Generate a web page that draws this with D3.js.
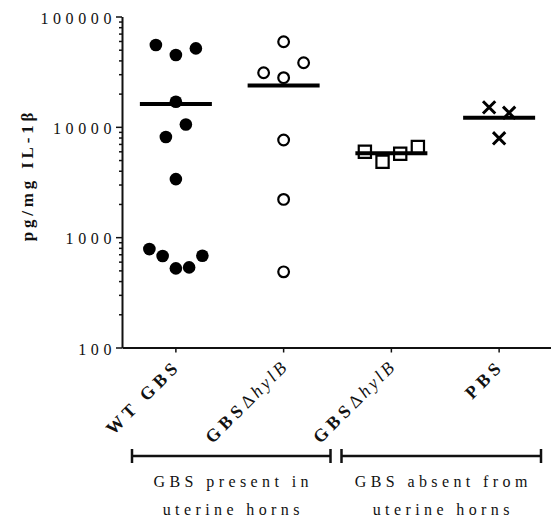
<!DOCTYPE html>
<html>
<head>
<meta charset="utf-8">
<script src="https://cdn.jsdelivr.net/npm/d3@7"></script>
<style>
  body { margin: 0; background: #fff; }
  text { font-family: "Liberation Serif", "DejaVu Serif", "Times New Roman", serif; }
</style>
</head>
<body>
<svg width="551" height="522"></svg>
<script>
// values (pg/mg IL-1β)
let wtGbs = [521, 532, 675, 678, 780, 3360, 8090, 10500, 16900, 44800, 51400, 55200];
let hylbPresent = [485, 2200, 7590, 27900, 38100, 30900, 59100];
let hylbAbsent = [4830, 5700, 5950, 6560];
let pbs = [15000, 13400, 7870];

let groupValues = [wtGbs, hylbPresent, hylbAbsent, pbs];
let groupSymbols = ["dot", "circle", "square", "times"];
let groupLabels = [
  [{ t: "WT GBS", b: true }],
  [{ t: "GBS", b: true }, { t: "Δ" }, { t: "hylB", i: true }],
  [{ t: "GBS", b: true }, { t: "Δ" }, { t: "hylB", i: true }],
  [{ t: "PBS", b: true }]
];
let yTicks = [100, 1000, 10000, 100000];
let brackets = [
  { from: 0, to: 1, lines: ["GBS present in", "uterine horns"] },
  { from: 2, to: 3, lines: ["GBS absent from", "uterine horns"] }
];

let svg = d3.select("svg");

let x = d3.scaleBand().domain(d3.range(groupValues.length)).range([122, 553]);
let y = d3.scaleLog().domain([100, 100000]).range([347.5, 16.5]);

// minor ticks 2..9 of each decade
let allTicks = [];
yTicks.forEach((t, i) => {
  if (i < yTicks.length - 1) d3.range(1, 10).forEach((k) => allTicks.push(t * k));
  else allTicks.push(t);
});

let yAxis = svg
  .append("g")
  .attr("transform", "translate(122,0)")
  .call(
    d3.axisLeft(y).tickValues(allTicks).tickSizeOuter(0).tickFormat((d) => (yTicks.includes(d) ? d : ""))
  );
yAxis.attr("font-family", null);
yAxis.select(".domain").style("stroke", "#111").style("stroke-width", 2);
yAxis
  .selectAll(".tick line")
  .attr("x2", (d) => (yTicks.includes(d) ? -6 : -3))
  .style("stroke", "#111")
  .style("stroke-width", 1.5);
yAxis
  .selectAll(".tick text")
  .attr("x", -6)
  .attr("dy", 6.5)
  .style("font-size", "16px")
  .style("letter-spacing", "4.6px")
  .style("fill", "#111");

let xAxis = svg
  .append("g")
  .attr("transform", "translate(0,347.5)")
  .call(d3.axisBottom(x).tickSize(5).tickSizeOuter(0).tickFormat(""));
xAxis.select(".domain").style("stroke", "#111").style("stroke-width", 2);
xAxis.selectAll(".tick line").style("stroke", "#111").style("stroke-width", 1.5);

// rotated category labels
groupLabels.forEach((parts, i) => {
  let cx = x(i) + x.bandwidth() / 2;
  let t = svg
    .append("text")
    .attr("transform", `translate(${cx + 6},${367}) rotate(-45)`)
    .attr("text-anchor", "end")
    .style("font-size", "18px")
    .style("fill", "#111");
  parts.forEach((p) => {
    t.append("tspan")
      .text(p.t)
      .style("font-weight", p.b ? "bold" : "normal")
      .style("font-style", p.i ? "italic" : "normal")
      .style("letter-spacing", p.b ? "4.5px" : "3px");
  });
});

svg
  .append("text")
  .attr("transform", "translate(33,175) rotate(-90)")
  .attr("text-anchor", "middle")
  .style("font-size", "17px")
  .style("font-weight", "bold")
  .style("letter-spacing", "3.8px")
  .style("fill", "#111")
  .text("pg/mg IL-1β");

// Prism-like spreading: points closer than 16px vertically share a row
function spread(values, cx) {
  let pts = values.map((v, i) => ({ v: v, i: i, y: y(v) }));
  let sorted = pts.slice().sort((a, b) => a.y - b.y);
  let clusters = [];
  sorted.forEach((p, k) => {
    if (k > 0 && p.y - sorted[k - 1].y < 16) clusters[clusters.length - 1].push(p);
    else clusters.push([p]);
  });
  clusters.forEach((c) => {
    c.sort((a, b) => a.i - b.i);
    let n = c.length;
    let step = n > 1 ? Math.min(20, 26.5 / ((n - 1) / 2)) : 0;
    c.forEach((p, k) => {
      let slot;
      if (n % 2) slot = k == 0 ? 0 : k % 2 ? (k + 1) / 2 : -k / 2;
      else slot = (k % 2 ? 1 : -1) * (Math.floor(k / 2) + 0.5);
      p.x = cx + slot * step;
    });
  });
  return pts;
}

let symbolTypes = {
  dot: { type: d3.symbolCircle, size: 125, fill: "#000", stroke: "none", sw: 0 },
  circle: { type: d3.symbolCircle, size: 90, fill: "none", stroke: "#000", sw: 2.2 },
  square: { type: d3.symbolSquare, size: 150, fill: "none", stroke: "#000", sw: 2.2 },
  times: { type: d3.symbolTimes, size: 100, fill: "none", stroke: "#000", sw: 3 }
};

groupValues.forEach((vals, i) => {
  let cx = x(i) + x.bandwidth() / 2;
  let st = symbolTypes[groupSymbols[i]];
  let pts = spread(vals, cx);
  let g = svg.append("g");
  g.selectAll("path")
    .data(pts)
    .join("path")
    .attr("d", d3.symbol().type(st.type).size(st.size))
    .attr("transform", (d) => `translate(${d.x},${d.y})`)
    .style("fill", st.fill)
    .style("stroke", st.stroke)
    .style("stroke-width", st.sw);

  let m = y(d3.mean(vals));
  g.append("line")
    .attr("x1", cx - 36)
    .attr("x2", cx + 36)
    .attr("y1", m)
    .attr("y2", m)
    .style("stroke", "#000")
    .style("stroke-width", 4);
});

// group brackets below the axis
brackets.forEach((b, i) => {
  let x0 = x(b.from) + (i == 0 ? 10 : 4);
  let x1 = x(b.to) + x.bandwidth() - (i == 0 ? 7 : 12);
  let yb = 456;
  let g = svg.append("g").style("stroke", "#111").style("stroke-width", 2.5);
  g.append("line").attr("x1", x0).attr("x2", x1).attr("y1", yb).attr("y2", yb);
  g.append("line").attr("x1", x0).attr("x2", x0).attr("y1", yb - 7).attr("y2", yb + 7);
  g.append("line").attr("x1", x1).attr("x2", x1).attr("y1", yb - 7).attr("y2", yb + 7);

  svg
    .append("g")
    .selectAll("text")
    .data(b.lines)
    .join("text")
    .attr("x", (x0 + x1) / 2 + 2)
    .attr("y", (d, k) => 487 + k * 28)
    .attr("text-anchor", "middle")
    .style("font-size", "16px")
    .style("letter-spacing", "4.4px")
    .style("fill", "#111")
    .text((d) => d);
});
</script>
</body>
</html>
